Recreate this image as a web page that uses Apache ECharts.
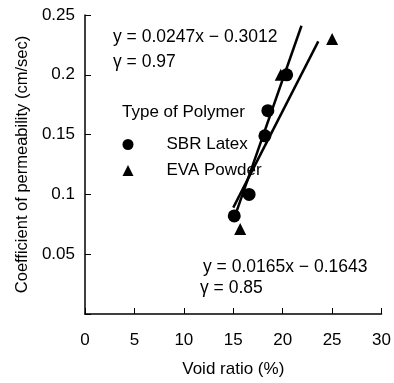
<!DOCTYPE html>
<html><head><meta charset="utf-8">
<script src="https://cdn.jsdelivr.net/npm/echarts@6/dist/echarts.min.js"></script>
<style>html,body{margin:0;padding:0;background:#fff}#c{width:394px;height:383px}</style>
</head><body><div id="c"></div>
<script>
// Data
var sbrPoints = [[15.1, 0.082], [16.6, 0.100], [18.2, 0.149], [18.5, 0.170], [20.4, 0.200]];
var evaPoints = [[15.7, 0.071], [19.8, 0.200], [25.0, 0.230]];
var sbrFitLine = [[15.3, 0.085], [21.9, 0.241]];
var evaFitLine = [[15.0, 0.089], [23.6, 0.228]];
var xTicks = [0, 5, 10, 15, 20, 25, 30];
var yTicks = [0.05, 0.1, 0.15, 0.2, 0.25];
var seriesNames = ['SBR Latex', 'EVA Powder'];
var eqSBR = ['y = 0.0247x \u2212 0.3012', '\u03b3 = 0.97'];
var eqEVA = ['y = 0.0165x \u2212 0.1643', '\u03b3 = 0.85'];

var F = 'Liberation Sans, Arial, sans-serif';
var C = '#000';
var chart = echarts.init(document.getElementById('c'));
chart.setOption({
  animation: false,
  backgroundColor: '#fff',
  grid: {left: 85, right: 11, top: 15, bottom: 61},
  xAxis: {
    type: 'value', min: 0, max: 30, interval: 5,
    name: 'Void ratio (%)', nameLocation: 'middle', nameGap: 47,
    nameTextStyle: {fontFamily: F, fontSize: 17, color: C},
    axisLine: {show: true, lineStyle: {color: C, width: 1.5}},
    axisTick: {show: true, inside: true, length: 6, lineStyle: {color: C}},
    axisLabel: {fontFamily: F, fontSize: 17, color: C, margin: 18,
      formatter: function (v) { return xTicks.indexOf(v) >= 0 ? String(v) : ''; }},
    splitLine: {show: false}
  },
  yAxis: {
    type: 'value', min: 0, max: 0.25, interval: 0.05,
    name: 'Coefficient of permeability (cm/sec)', nameLocation: 'middle', nameGap: 54,
    nameTextStyle: {fontFamily: F, fontSize: 16.5, color: C},
    axisLine: {show: true, lineStyle: {color: C, width: 1.5}},
    axisTick: {show: true, inside: true, length: 6, lineStyle: {color: C}},
    axisLabel: {fontFamily: F, fontSize: 17, color: C, margin: 10,
      formatter: function (v) {
        for (var i = 0; i < yTicks.length; i++) if (Math.abs(yTicks[i] - v) < 1e-9) return String(yTicks[i]);
        return '';
      }},
    splitLine: {show: false}
  },
  legend: {
    orient: 'vertical', left: 117.5, top: 131, itemGap: 9,
    itemWidth: 11, itemHeight: 11,
    textStyle: {fontFamily: F, fontSize: 17, color: C, padding: [0, 0, 0, 28]},
    data: [{name: seriesNames[0], icon: 'circle', itemStyle: {color: C, opacity: 1}},
           {name: seriesNames[1], icon: 'triangle', itemStyle: {color: C, opacity: 1}}]
  },
  series: [
    {type: 'line', data: sbrFitLine, showSymbol: false, symbol: 'none', silent: true,
     lineStyle: {color: C, width: 2.5}, z: 2},
    {type: 'line', data: evaFitLine, showSymbol: false, symbol: 'none', silent: true,
     lineStyle: {color: C, width: 2.5}, z: 2},
    {name: seriesNames[0], type: 'scatter', data: sbrPoints, symbol: 'circle', symbolSize: 13,
     itemStyle: {color: C, opacity: 1}, z: 3},
    {name: seriesNames[1], type: 'scatter', data: evaPoints, symbol: 'triangle', symbolSize: 12,
     itemStyle: {color: C, opacity: 1}, z: 3}
  ],
  graphic: [
    {type: 'text', left: 113, top: 28, style: {text: eqSBR[0], font: '17.5px ' + F, fill: C}},
    {type: 'text', left: 113, top: 53, style: {text: eqSBR[1], font: '17.5px ' + F, fill: C}},
    {type: 'text', left: 122, top: 104, style: {text: 'Type of Polymer', font: '17px ' + F, fill: C}},
    {type: 'text', left: 203, top: 258, style: {text: eqEVA[0], font: '17.5px ' + F, fill: C}},
    {type: 'text', left: 200, top: 279, style: {text: eqEVA[1], font: '17.5px ' + F, fill: C}}
  ]
});
</script></body></html>
